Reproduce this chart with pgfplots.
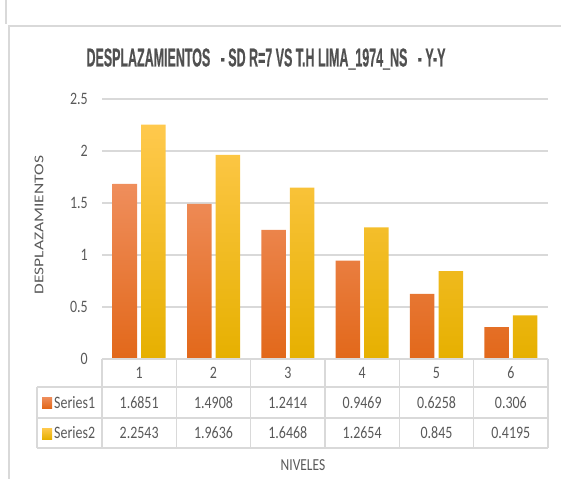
\documentclass[border=0pt]{standalone}
\usepackage{pgfplots}
\pgfplotsset{compat=1.18}
\usepackage{pgfplotstable}
\usepackage{graphicx}
\usepackage{fontspec}
\setmainfont{Carlito}
\newfontfamily\titlefont[FakeBold=0.8]{Liberation Sans}
\definecolor{txt}{HTML}{595959}
\definecolor{ttl}{HTML}{505050}
\definecolor{grd}{HTML}{D9D9D9}
\definecolor{sAt}{HTML}{EF8E5C}
\definecolor{sAm}{HTML}{F27F2D}
\definecolor{sAb}{HTML}{E2681A}
\definecolor{sBt}{HTML}{FFC94D}
\definecolor{sBm}{HTML}{FFC000}
\definecolor{sBb}{HTML}{E6B000}
\pgfplotstableread{
n s1 s2
1 1.6851 2.2543
2 1.4908 1.9636
3 1.2414 1.6468
4 0.9469 1.2654
5 0.6258 0.845
6 0.306 0.4195
}\data
\newcommand{\tf}{\fontsize{14}{14}\selectfont}
\begin{document}
\begin{tikzpicture}
\useasboundingbox (0,0) rectangle (561bp,-479bp);
\begin{axis}[
  at={(102bp,-359bp)}, anchor=south west,
  scale only axis, width=446bp, height=260bp,
  xmin=0.5, xmax=6.5, ymin=0, ymax=2.5,
  ytick={0,0.5,1,1.5,2,2.5}, xtick=\empty,
  ymajorgrids, grid style={grd, line width=1.1bp},
  axis line style={draw=none}, major tick length=0pt,
  /pgf/number format/assume math mode=true,
  yticklabel style={font=\tf, text=txt, inner sep=0pt, anchor=east, xshift=-14bp},
  yticklabel={\scalebox{1}[1.25]{\pgfmathprintnumber{\tick}}},
  ybar=4bp, bar width=24.5bp, clip=false]
\addplot[draw=none, top color=sAt, middle color=sAm, bottom color=sAb] table[x=n,y=s1]{\data};
\addplot[draw=none, top color=sBt, middle color=sBm, bottom color=sBb] table[x=n,y=s2]{\data};
\end{axis}
\begin{scope}[x=1bp,y=-1bp]
  % chart frame
  \draw[grd, line width=1.5bp] (9,479) -- (9,26) -- (561,26);
  \draw[grd, line width=1.2bp] (6,0) -- (6,24);
  % data table
  \begin{scope}[grd, line width=1.2bp]
    \draw (102,359) -- (548,359);
    \foreach \y in {387,418,448} \draw (37,\y) -- (548,\y);
    \foreach \k in {0,...,6} \draw ({102+74.333*\k},359) -- ({102+74.333*\k},448);
    \draw (37,387) -- (37,448);
  \end{scope}
  \foreach \i in {0,...,5} {
    \pgfmathsetmacro\cx{102+74.333*(\i+0.5)}
    \pgfplotstablegetelem{\i}{n}\of\data
    \node[text=txt, font=\tf, inner sep=0pt] at (\cx,373) {\scalebox{1}[1.25]{\pgfplotsretval}};
    \pgfplotstablegetelem{\i}{s1}\of\data
    \node[text=txt, font=\tf, inner sep=0pt] at (\cx,402.5) {\scalebox{1}[1.25]{\pgfplotsretval}};
    \pgfplotstablegetelem{\i}{s2}\of\data
    \node[text=txt, font=\tf, inner sep=0pt] at (\cx,433) {\scalebox{1}[1.25]{\pgfplotsretval}};
  }
  \shade[top color=sAt, bottom color=sAb] (42,397) rectangle (52,408);
  \shade[top color=sBt, bottom color=sBb] (42,428) rectangle (52,439);
  \node[text=txt, font=\tf, inner sep=0pt, anchor=west] at (54,402.5) {\scalebox{1}[1.25]{Series1}};
  \node[text=txt, font=\tf, inner sep=0pt, anchor=west] at (54,433) {\scalebox{1}[1.25]{Series2}};
  % axis titles
  \node[text=txt, font=\fontsize{13.5}{13.5}\selectfont, inner sep=0pt, rotate=90] at (39,225) {\scalebox{1.3}[1]{DESPLAZAMIENTOS}};
  \node[text=txt, font=\fontsize{13.5}{13.5}\selectfont, inner sep=0pt] at (303,465) {\scalebox{1}[1.25]{NIVELES}};
  % chart title
  \node[text=ttl, inner sep=0pt] at (266,59) {\resizebox{359bp}{18bp}{\titlefont\bfseries DESPLAZAMIENTOS\ \ \ - SD R=7 VS T.H LIMA\_1974\_NS\ \ \ - Y-Y}};
\end{scope}
\end{tikzpicture}
\end{document}
